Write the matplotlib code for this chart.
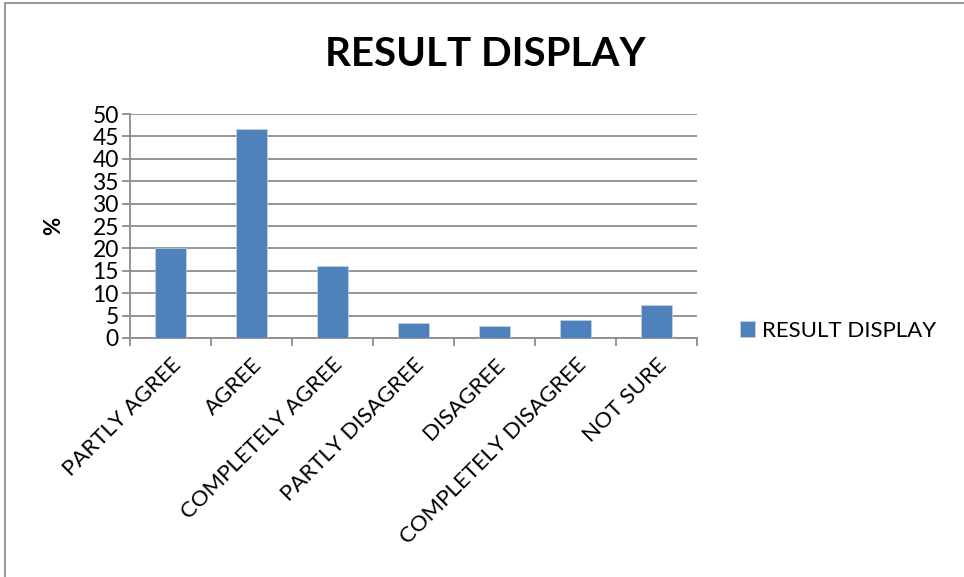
import matplotlib.pyplot as plt
import numpy as np
from matplotlib.patches import Rectangle

categories = ['PARTLY AGREE', 'AGREE', 'COMPLETELY AGREE', 'PARTLY DISAGREE',
              'DISAGREE', 'COMPLETELY DISAGREE', 'NOT SURE']
values = [20, 46.7, 16, 3.3, 2.7, 4, 7.3]
yticks = [0, 5, 10, 15, 20, 25, 30, 35, 40, 45, 50]

plt.rcParams['font.family'] = ['Lato', 'DejaVu Sans']

W, H = 964, 577
fig = plt.figure(figsize=(W / 100, H / 100), dpi=100)
ax = fig.add_axes([130 / W, 1 - 338 / H, (697 - 130) / W, (338 - 114) / H])

# outer chart border
fig.patches.append(Rectangle((5 / W, -0.1), 1.2, 1 - 3 / H + 0.1, transform=fig.transFigure,
                             fill=False, edgecolor='#888888', lw=1.2))

x = np.arange(len(categories))
ax.bar(x, values, width=0.39, color='#4F81BD', edgecolor='#c5d3e8', lw=0.5,
       label='RESULT DISPLAY', zorder=3)

ax.set_xlim(-0.5, len(categories) - 0.5)
ax.set_ylim(0, 50)
ax.set_yticks(yticks)
ax.set_yticklabels([str(t) for t in yticks], fontsize=16.5)
ax.grid(axis='y', color='#8c8c8c', lw=1.3, zorder=0)

ax.set_xticks(np.arange(-0.5, len(categories), 1.0))
ax.set_xticklabels([])
ax.set_xticks(x, minor=True)
ax.set_xticklabels(categories, minor=True, rotation=45, ha='right',
                   rotation_mode='anchor', fontsize=16)
ax.tick_params(axis='x', which='minor', length=0, pad=12)
ax.tick_params(axis='x', which='major', length=6, width=1.3, color='#8c8c8c')
ax.tick_params(axis='y', length=6, width=1.3, color='#8c8c8c', pad=2)

for s in ['top', 'right']:
    ax.spines[s].set_visible(False)
for s in ['left', 'bottom']:
    ax.spines[s].set_color('#8c8c8c')
    ax.spines[s].set_linewidth(1.3)

ax.set_ylabel('%', fontsize=16, fontweight='bold', labelpad=20)
fig.text(485 / W, 1 - 55 / H, 'RESULT DISPLAY', fontsize=29, fontweight='bold',
         ha='center', va='center')

ax.legend(loc='center left', bbox_to_anchor=(731 / W, 1 - 331 / H), bbox_transform=fig.transFigure,
          frameon=False, fontsize=16, handlelength=0.7, handleheight=0.7,
          handletextpad=0.3, borderaxespad=0)

fig.savefig('out.png', dpi=100)
